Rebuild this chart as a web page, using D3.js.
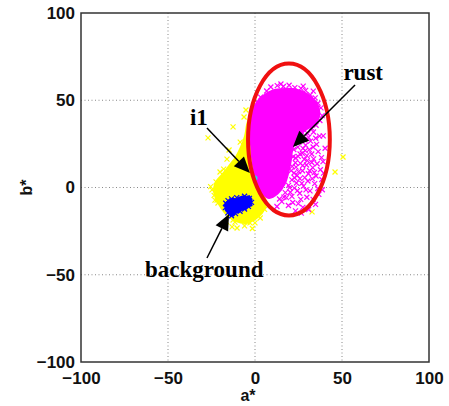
<!DOCTYPE html>
<html>
<head>
<meta charset="utf-8">
<script src="https://cdn.jsdelivr.net/npm/d3@7/dist/d3.min.js"></script>
<style>
  html, body { margin: 0; padding: 0; background: #fff; }
  svg { display: block; }
</style>
</head>
<body>
<svg id="chart" width="449" height="406"></svg>
<script>
// a*/b* chromaticity scatter: background, i1 and rust pixel clusters

const ticks = [-100, -50, 0, 50, 100];
const gridTicks = [-50, 0, 50];

// Dense cores of each cluster (outline in a*, b*)
const yellowCore = [[-3.4,39.8],[-2.3,30.1],[-1.7,21.5],[0,11.2],[2.3,3.2],[5.2,-4.3],[6.3,-10.0],[4.0,-14.6],[0,-18.1],[-5.2,-20.3],[-10.9,-19.2],[-15.5,-16.3],[-19.0,-12.3],[-21.8,-7.2],[-23.6,-2.0],[-22.4,3.2],[-19.0,7.2],[-14.9,12.3],[-10.9,17.5],[-8.0,23.2],[-5.7,29.5],[-4.6,35.8]];
const magentaCore = [[-2.3,40],[0,47],[4,52],[10,55.5],[17,56.5],[24,56],[30,53.5],[35,49],[37,43],[35,37],[29,33],[24,28],[21.5,22],[20.5,15],[19,8],[17,2],[13,-3.5],[8,-6],[4,-3],[1,4],[-1.1,13],[-2.3,25]];
const blueCore = [[-16.5,-8.8],[-14.5,-7.2],[-12.8,-6.4],[-11.0,-6.9],[-9.0,-5.8],[-7.3,-5.2],[-5.0,-5.6],[-3.4,-5.0],[-2.0,-6.8],[-2.4,-8.6],[-2.0,-10.2],[-3.9,-11.0],[-5.3,-12.4],[-7.6,-12.6],[-9.2,-13.9],[-11.0,-14.2],[-12.4,-16.0],[-14.6,-15.6],[-15.7,-14.0],[-16.9,-12.6],[-16.4,-11.0],[-17.4,-10.0]];

// Individual samples around the cores
const yellowPts = [[-12.6,34.7],[-27.0,28.4],[-16.1,16.3],[-20.1,8.9],[-22.4,3.2],[-21.8,-7.2],[-19.0,-6.6],[-11.5,-19.8],[-4.6,-19.8],[-13.2,-22.6],[-10.3,-23.2],[-23.0,-7.2],[-21.3,-8.9],[-12.6,-18.6],[0,-20.3],[50.6,17.5],[46.0,8.9],[32.8,-14.0],[-2.9,-20.3],[-6.9,-18.6],[-5.2,44.4],[-6.3,40.4],[-24.7,-1.4],[-17.2,1.4],[-14.9,21.5],[-8.5,26.0],[-25.5,0.5],[-23.5,-4.5],[-18.0,10.5],[-6.0,-22.0],[3.0,-17.5],[5.5,-12.5],[-1.5,-23.5],[-16.5,-19.5]];
const magentaPts = [[3.2,51.8],[6.7,55.3],[9.1,57.6],[12.8,58.4],[16.3,57.9],[19.6,58.6],[22.9,57.2],[26.4,56.8],[29.1,55.7],[31.8,53.1],[34.6,51.4],[36.2,48.3],[37.9,45.6],[38.6,41.2],[37.3,38.4],[35.1,35.7],[32.4,34.2],[1.4,48.6],[-0.8,44.1],[27.7,58.1],[14.9,59.3],[33.5,55.2],
  [26.8,31.7],[30.3,30.9],[33.6,31.8],[37.1,29.4],[35.4,24.7],[31.9,26.6],[28.5,27.3],[25.2,25.9],[27.6,22.4],[31.2,21.7],[36.3,20.6],[38.2,17.1],[33.7,16.4],[29.8,18.3],[25.9,19.2],[23.4,16.9],[26.1,13.8],[29.6,12.9],[33.2,11.4],[37.6,10.2],[35.1,6.6],[30.7,7.9],[27.3,9.6],[23.6,11.7],[22.4,8.3],[25.8,5.1],[30.4,3.7],[34.3,2.2],[38.4,4.6],[36.1,-0.6],[31.6,-1.9],[27.9,0.8],[23.8,2.6],[21.2,4.4],[22.6,-0.4],[25.7,-3.3],[29.8,-5.6],[33.4,-6.8],[36.7,-3.9],[20.3,-2.7],[18.1,-5.8],[21.7,-8.6],[24.9,-9.2],[27.5,-11.4],[30.8,-12.6],[26.6,-14.7],[23.3,-13.4],[19.2,-10.3],[15.4,-8.1],[12.6,-10.9],[34.8,-9.7],[38.7,-1.3],[39.4,8.2],[39.1,14.8],[40.3,22.5],[39.2,29.6],[22.3,21.8],[23.1,27.6],[21.4,12.1],[24.2,6.9],[19.3,1.2],[17.4,-2.9],[28.3,16.2],[32.6,14.3],[29.1,24.3],
  [22.8,30.4],[24.6,23.1],[21.9,17.6],[23.2,14.2],[20.8,9.7],[22.7,5.6],[19.9,-0.1],[24.4,-1.8],[26.9,2.4],[28.6,5.7],[25.1,9.1],[27.4,12.5],[24.8,17.8],[27.2,19.6],[30.1,15.4],[31.4,9.6],[32.9,5.1],[29.3,-1.4],[26.3,-6.8],[21.2,-5.1],[16.6,-5.5],[14.1,-6.6],[28.9,21.1],[33.4,23.2],[30.8,28.7],[26.1,28.4],[34.9,28.2],[32.6,19.2],[35.7,13.6],[34.1,8.6]];
const bluePts = [[-16.8,-9.0],[-15.5,-7.5],[-13.5,-6.5],[-10.5,-5.8],[-6.0,-5.0],[-3.2,-6.2],[-2.0,-8.5],[-3.8,-10.8],[-6.0,-12.3],[-8.6,-13.6],[-11.2,-15.0],[-13.5,-16.2],[-15.6,-14.5],[-17.0,-11.5]];
const cyanPts = [[0,5.4]];

// Fitted boundary of the rust cluster
const rustEllipse = { a: 19.5, b: 27.5, ra: 23.5, rb: 43.5 };

// Labels with arrows: text anchor, arrow tail and arrow tip (a*, b*)
const labels = ["rust", "i1", "background"];
const labelAt = [[50.8, 61.6], [-37.4, 35.6], [-63.2, -51.3]];
const arrowFrom = [[57.5, 58.7], [-27.6, 34.1], [-27.6, -40.4]];
const arrowTo = [[21.8, 23.2], [-2.9, 8.3], [-14.9, -15.2]];

const svg = d3.select("#chart");
const x = d3.scaleLinear().domain([-100, 100]).range([81, 429]);
const y = d3.scaleLinear().domain([-100, 100]).range([362, 13]);

// grid
const grid = svg.append("g");
grid.selectAll("line.gx").data(gridTicks).join("line")
  .attr("x1", d => x(d)).attr("x2", d => x(d)).attr("y1", y(100)).attr("y2", y(-100))
  .attr("stroke", "#888").attr("stroke-width", 1).attr("stroke-dasharray", "1,2.5");
grid.selectAll("line.gy").data(gridTicks).join("line")
  .attr("y1", d => y(d)).attr("y2", d => y(d)).attr("x1", x(-100)).attr("x2", x(100))
  .attr("stroke", "#888").attr("stroke-width", 1).attr("stroke-dasharray", "1,2.5");

const smooth = d3.line().x(d => x(d[0])).y(d => y(d[1])).curve(d3.curveCatmullRomClosed.alpha(0.5));
const jagged = d3.line().x(d => x(d[0])).y(d => y(d[1])).curve(d3.curveLinearClosed);
const cross = d3.symbol().type(d3.symbolX).size(18);

function cluster(core, pts, color, shape) {
  const g = svg.append("g");
  g.append("path").attr("d", shape(core)).attr("fill", color).attr("stroke", color).attr("stroke-width", 2);
  g.selectAll("path.pt").data(pts).join("path")
    .attr("transform", d => `translate(${x(d[0])},${y(d[1])})`)
    .attr("d", cross).attr("fill", "none").attr("stroke", color).attr("stroke-width", 1.2);
}
cluster(yellowCore, yellowPts, "#ffff00", smooth);
cluster(magentaCore, magentaPts, "#ff00ff", smooth);
cluster(blueCore, bluePts, "#0000ff", jagged);

svg.selectAll("circle.cy").data(cyanPts).join("circle")
  .attr("cx", d => x(d[0])).attr("cy", d => y(d[1])).attr("r", 2.5).attr("fill", "#20e0e0");

svg.append("ellipse")
  .attr("cx", x(rustEllipse.a)).attr("cy", y(rustEllipse.b))
  .attr("rx", x(rustEllipse.ra) - x(0)).attr("ry", y(0) - y(rustEllipse.rb))
  .attr("fill", "none").attr("stroke", "#f01010").attr("stroke-width", 4);

// frame
svg.append("rect").attr("x", x(-100)).attr("y", y(100))
  .attr("width", x(100) - x(-100)).attr("height", y(-100) - y(100))
  .attr("fill", "none").attr("stroke", "#333").attr("stroke-width", 1.5);

// axes
const axisFont = "'Liberation Sans', Arial, sans-serif";
const xAxis = svg.append("g").attr("transform", `translate(0,${y(-100)})`)
  .call(d3.axisBottom(x).tickValues(ticks).tickSize(0).tickPadding(6));
const yAxis = svg.append("g").attr("transform", `translate(${x(-100)},0)`)
  .call(d3.axisLeft(y).tickValues(ticks).tickSize(0).tickPadding(6));
[xAxis, yAxis].forEach(a => {
  a.select(".domain").remove();
  a.selectAll("text").attr("font-family", axisFont).attr("font-weight", "bold")
    .attr("font-size", 17).attr("fill", "#111");
});
xAxis.selectAll("text").attr("dy", "0.95em");

svg.append("text").attr("x", x(-4)).attr("y", 401).attr("text-anchor", "middle")
  .attr("font-family", axisFont).attr("font-weight", "bold").attr("font-size", 16).attr("fill", "#111")
  .text("a*");
svg.append("text").attr("transform", `translate(32,${y(0)}) rotate(-90)`).attr("text-anchor", "middle")
  .attr("font-family", axisFont).attr("font-weight", "bold").attr("font-size", 16).attr("fill", "#111")
  .text("b*");

// annotations
const ann = svg.append("g");
labels.forEach((t, i) => {
  const x0 = x(arrowFrom[i][0]), y0 = y(arrowFrom[i][1]);
  const x1 = x(arrowTo[i][0]), y1 = y(arrowTo[i][1]);
  const ang = Math.atan2(y1 - y0, x1 - x0);
  const L = 16, W = 7;
  const bx = x1 - L * Math.cos(ang), by = y1 - L * Math.sin(ang);
  ann.append("line").attr("x1", x0).attr("y1", y0).attr("x2", bx).attr("y2", by)
    .attr("stroke", "#000").attr("stroke-width", 1.5);
  const px = -Math.sin(ang) * W, py = Math.cos(ang) * W;
  ann.append("path").attr("d", `M${x1},${y1}L${bx + px},${by + py}L${bx - px},${by - py}Z`).attr("fill", "#000");
  ann.append("text").attr("x", x(labelAt[i][0])).attr("y", y(labelAt[i][1]))
    .attr("font-family", "'Liberation Serif', 'Times New Roman', serif").attr("font-weight", "bold")
    .attr("font-size", 23).attr("fill", "#000").text(t);
});
</script>
</body>
</html>
